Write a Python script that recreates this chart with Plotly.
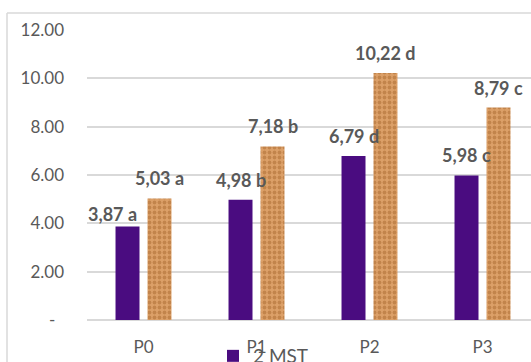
import plotly.graph_objects as go

categories = ["P0", "P1", "P2", "P3"]
series_names = ["2 MST", "4 MST"]
values_2mst = [3.87, 4.98, 6.79, 5.98]
values_4mst = [5.03, 7.18, 10.22, 8.79]
letters_2mst = ["a", "b", "d", "c"]
letters_4mst = ["a", "b", "d", "c"]
y_tickvals = [0, 2, 4, 6, 8, 10, 12]
y_ticktext = ["-\u00a0\u00a0", "2.00", "4.00", "6.00", "8.00", "10.00", "12.00"]

W, H = 531, 362
ML, MT, MB = 87, 30, 42
plot_w = W - ML
plot_h = H - MT - MB

FONT = "Lato"
GRAY = "#595959"
PURPLE = "#4A0C80"
ORANGE_BG = "#DCA068"
ORANGE_FG = "#A8672E"

fig = go.Figure()
fig.add_trace(go.Bar(
    x=categories, y=values_2mst, name=series_names[0],
    marker=dict(color=PURPLE, line=dict(width=0)),
))
fig.add_trace(go.Bar(
    x=categories, y=values_4mst, name=series_names[1], showlegend=False,
    marker=dict(color=ORANGE_BG, line=dict(width=0),
                pattern=dict(shape=".", fgcolor=ORANGE_FG, bgcolor=ORANGE_BG,
                             size=5, solidity=0.45, fillmode="overlay")),
))

def fmt(v):
    return f"{v:.2f}".replace(".", ",")

# per-label nudges (styling), series offset in px
offsets = {0: -16, 1: 16}
nudges = {(0, 0): (-15, -8)}
for s, (vals, lets) in enumerate([(values_2mst, letters_2mst), (values_4mst, letters_4mst)]):
    for i, (c, v, l) in enumerate(zip(categories, vals, lets)):
        dx, dy = nudges.get((s, i), (0, 0))
        fig.add_annotation(
            x=c, y=v, xref="x", yref="y", text=f"{fmt(v)} {l}",
            showarrow=False, xanchor="center", yanchor="bottom",
            xshift=offsets[s] + dx, yshift=7 + dy,
            font=dict(family=FONT, size=18, color=GRAY, weight="bold"),
        )

# chart border (cropped frame)
def px_x(p):
    return (p - ML) / plot_w
def px_y(p):
    return (H - MB - p) / plot_h
fig.add_shape(type="line", xref="paper", yref="paper",
              x0=px_x(7), x1=px_x(7), y0=px_y(13), y1=px_y(H + 5),
              line=dict(color="#D9D9D9", width=1.5))
fig.add_shape(type="line", xref="paper", yref="paper",
              x0=px_x(7), x1=px_x(W + 5), y0=px_y(13), y1=px_y(13),
              line=dict(color="#D9D9D9", width=1.5))

fig.update_layout(
    width=W, height=H,
    margin=dict(l=ML, r=0, t=MT, b=MB, pad=0, autoexpand=False),
    paper_bgcolor="white", plot_bgcolor="white",
    barmode="group", bargap=0.434, bargroupgap=0.25,
    font=dict(family=FONT, color=GRAY),
    showlegend=True,
    legend=dict(orientation="h", xref="container", yref="container",
                x=213 / W, y=1 - 356 / H, xanchor="left", yanchor="middle",
                font=dict(family=FONT, size=19, color=GRAY),
                bgcolor="rgba(0,0,0,0)", itemwidth=30),
)
fig.update_xaxes(
    range=[-0.5, -0.5 + plot_w / 113.0], showgrid=False, showline=False,
    zeroline=False, ticks="", tickfont=dict(family=FONT, size=17, color=GRAY),
    ticklabelstandoff=15, automargin=False,
)
fig.update_yaxes(
    range=[0, 12], tickvals=y_tickvals, ticktext=y_ticktext,
    showgrid=True, gridcolor="#D9D9D9", gridwidth=1.5,
    zeroline=True, zerolinecolor="#D9D9D9", zerolinewidth=1.5,
    showline=False, ticks="", tickfont=dict(family=FONT, size=17, color=GRAY),
    ticklabelstandoff=22, automargin=False,
)

fig.write_html("out.html")
